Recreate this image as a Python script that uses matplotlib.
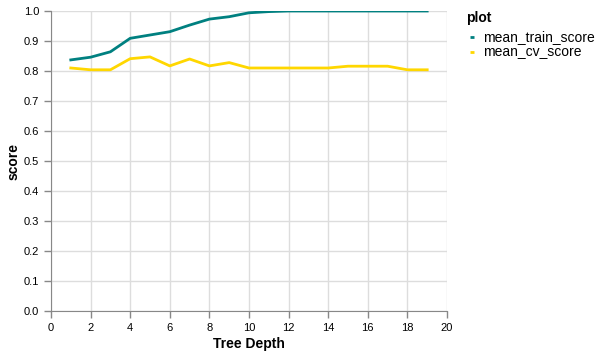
import matplotlib.pyplot as plt
from matplotlib.lines import Line2D
from matplotlib.ticker import MultipleLocator, FormatStrFormatter

plt.rcParams["font.family"] = ["Liberation Sans", "DejaVu Sans"]

depth = list(range(1, 20))
mean_train_score = [0.837, 0.846, 0.864, 0.909, 0.920, 0.931, 0.953, 0.973, 0.981,
                    0.994, 0.998, 1.0, 1.0, 1.0, 1.0, 1.0, 1.0, 1.0, 1.0]
mean_cv_score = [0.810, 0.804, 0.804, 0.841, 0.847, 0.817, 0.840, 0.817, 0.828,
                 0.810, 0.810, 0.810, 0.810, 0.810, 0.816, 0.816, 0.816, 0.804, 0.804]
series_names = ["mean_train_score", "mean_cv_score"]
series_colors = ["#008080", "#ffd700"]

W, H = 601, 352
fig = plt.figure(figsize=(W / 100, H / 100), dpi=100)
ax = fig.add_axes([51 / W, 1 - 311 / H, 396 / W, 300 / H])

for name, vals, col in zip(series_names, [mean_train_score, mean_cv_score], series_colors):
    ax.plot(depth, vals, color=col, lw=2, label=name)

ax.set_xlim(0, 20)
ax.set_ylim(0, 1)
ax.xaxis.set_major_locator(MultipleLocator(2))
ax.yaxis.set_major_locator(MultipleLocator(0.1))
ax.yaxis.set_major_formatter(FormatStrFormatter("%.1f"))
ax.grid(True, color="#dddddd", lw=1)
ax.set_axisbelow(True)
for side in ["top", "right"]:
    ax.spines[side].set_visible(False)
for side in ["left", "bottom"]:
    ax.spines[side].set_color("#888888")
ax.tick_params(colors="#888888", labelcolor="black", labelsize=8, length=5, width=1)

ax.set_xlabel("Tree Depth", fontsize=10, fontweight="bold", labelpad=3)
ax.set_ylabel("score", fontsize=10, fontweight="bold", labelpad=2)

# legend drawn by hand to match the vega-style layout
fig.text(466 / W, 1 - 22 / H, "plot", fontsize=10, fontweight="bold", va="baseline")
for i, (name, col) in enumerate(zip(series_names, series_colors)):
    yc = 1 - (37 + 15 * i) / H
    fig.add_artist(Line2D([470 / W, 474 / W], [yc, yc], color=col, lw=2,
                          solid_capstyle="butt", transform=fig.transFigure))
    fig.text(483 / W, yc, name, fontsize=10, va="center")

fig.savefig("out.png", dpi=100)
